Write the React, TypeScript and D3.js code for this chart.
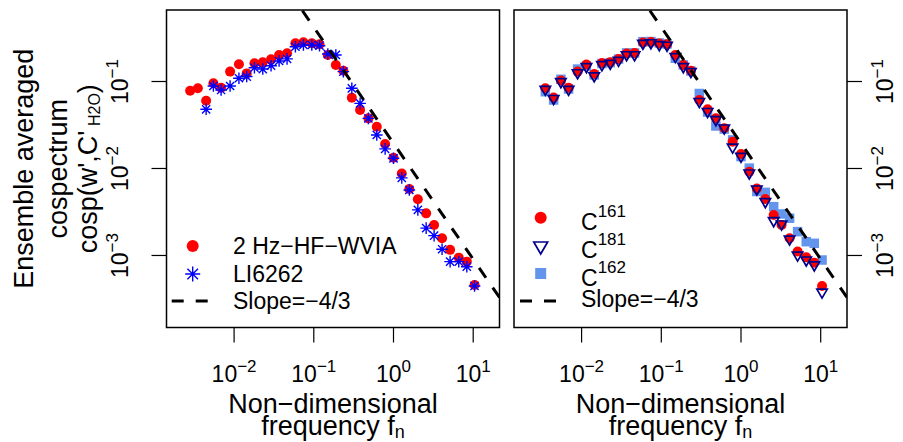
import { useEffect, useRef } from 'react';
import * as d3 from 'd3';

// non-dimensional frequency grid (shared by every series)
const freq = [
  0.00281, 0.00351, 0.00446, 0.0055, 0.00687, 0.00891, 0.0115, 0.0144, 0.018, 0.0229,
  0.0291, 0.0367, 0.0462, 0.0588, 0.0741, 0.0944, 0.118, 0.150, 0.189, 0.235,
  0.300, 0.381, 0.484, 0.617, 0.785, 1.00, 1.27, 1.58, 2.02, 2.57,
  3.23, 4.07, 5.13, 6.59, 8.31, 10.4,
];

// left panel: 2 Hz-HF-WVIA and LI6262
const wvia = [
  0.0784, 0.0835, 0.0602, 0.0953, 0.0849, 0.130, 0.158, 0.124, 0.162, 0.166,
  0.180, 0.202, 0.211, 0.275, 0.282, 0.275, 0.268, 0.202, 0.155, 0.133,
  0.0652, 0.0470, 0.0377, 0.0302, 0.0191, 0.0133, 0.00877, 0.00581, 0.00442, 0.00305,
  0.00224, 0.00158, 0.00116, 0.000944, 0.000849, 0.000458,
];
const li6262 = [
  null, null, 0.0479, 0.0888, 0.0798, 0.0888, 0.109, 0.114, 0.144, 0.139,
  0.152, 0.172, 0.182, 0.251, 0.263, 0.263, 0.258, 0.207, 0.202, 0.130,
  0.0835, 0.0561, 0.0377, 0.0243, 0.0168, 0.0131, 0.00781, 0.00566, 0.00334, 0.00206,
  0.00169, 0.00118, 0.000849, 0.000849, 0.000743, 0.000446,
];

// right panel: C161, C181, C162
const c161 = [
  null, 0.0835, 0.0655, 0.1027, 0.0849, 0.130, 0.157, 0.122, 0.163, 0.167,
  0.181, 0.210, 0.213, 0.281, 0.284, 0.274, 0.268, 0.202, 0.155, 0.133,
  0.0613, 0.0479, 0.0378, 0.0290, 0.0203, 0.0147, 0.00919, 0.00589, 0.00446, 0.00292,
  0.00224, 0.00158, 0.00111, 0.000953, 0.000826, 0.000446,
];
const c181 = [
  null, 0.0813, 0.0638, 0.0995, 0.0813, 0.126, 0.148, 0.116, 0.156, 0.162,
  0.175, 0.203, 0.203, 0.275, 0.279, 0.265, 0.261, 0.193, 0.148, 0.130,
  0.0589, 0.0452, 0.0364, 0.0292, 0.0176, 0.0138, 0.00887, 0.00581, 0.00415, 0.00251,
  0.00230, 0.00154, 0.00101, 0.000887, 0.000778, 0.000379,
];
const c162 = [
  null, 0.0763, 0.0613, 0.106, 0.082, 0.139, 0.151, 0.119, 0.161, 0.165,
  0.181, 0.213, 0.213, 0.287, 0.288, 0.277, 0.270, 0.185, 0.155, 0.132,
  0.0728, 0.0446, 0.0308, 0.0284, 0.0213, 0.0137, 0.0101, 0.00544, 0.00532, 0.00364,
  0.00300, 0.00268, 0.00188, 0.00144, 0.00138, 0.000887,
];

// reference line cosp = a * f^(-4/3)
const slopeCoef = 0.0195;
const slopeExp = -4 / 3;

const xTickExp = ['−2', '−1', '0', '1'];
const xTickVal = [0.01, 0.1, 1, 10];
const yTickExp = ['−3', '−2', '−1'];
const yTickVal = [0.001, 0.01, 0.1];

const FONT = '"Liberation Sans", Arial, Helvetica, sans-serif';

const App = () => {
  const svgRef = useRef<SVGSVGElement>(null);

  useEffect(() => {
    const width = 903;
    const height = 442;
    const top = 10;
    const bottom = 327.5;
    const panels = [
      { left: 166.5, right: 499.5 },
      { left: 514, right: 847 },
    ];

    const svg = d3.select(svgRef.current);
    svg.selectAll('*').remove();
    svg.attr('width', width).attr('height', height).style('font-family', FONT);

    const y = d3.scaleLog().domain([10 ** -3.828, 10 ** -0.178]).range([bottom, top]);

    const circle = (g, cx, cy, r) =>
      g.append('circle').attr('cx', cx).attr('cy', cy).attr('r', r).attr('fill', '#ff0000');
    const triangle = (g, cx, cy, r) => {
      const w = (Math.sqrt(3) / 2) * r;
      g.append('path')
        .attr('d', `M${cx - w},${cy - r / 2}L${cx + w},${cy - r / 2}L${cx},${cy + r}Z`)
        .attr('fill', 'none')
        .attr('stroke', '#00008b')
        .attr('stroke-width', 1.7);
    };
    const square = (g, cx, cy, s) =>
      g.append('rect')
        .attr('x', cx - s / 2).attr('y', cy - s / 2)
        .attr('width', s).attr('height', s)
        .attr('fill', '#6495ed');
    const asterisk = (g, cx, cy, r) => {
      const d = r * 0.7071;
      g.append('path')
        .attr('d', `M${cx - r},${cy}H${cx + r}M${cx},${cy - r}V${cy + r}M${cx - d},${cy - d}L${cx + d},${cy + d}M${cx - d},${cy + d}L${cx + d},${cy - d}`)
        .attr('stroke', '#0000ff')
        .attr('stroke-width', 1.4)
        .attr('fill', 'none');
    };

    // "base^sup" as two tspans
    const power = (g, base, sup, supSize, shift) => {
      g.append('tspan').text(base);
      g.append('tspan').attr('dy', shift).attr('font-size', supSize).text(sup);
    };

    panels.forEach((p, pi) => {
      const x = d3.scaleLog().domain([10 ** -2.848, 10 ** 1.33]).range([p.left, p.right]);
      const g = svg.append('g');

      const clipId = `clip${pi}`;
      svg.append('clipPath').attr('id', clipId)
        .append('rect')
        .attr('x', p.left).attr('y', top)
        .attr('width', p.right - p.left).attr('height', bottom - top);

      const plot = g.append('g');

      if (pi === 0) {
        freq.forEach((f, i) => circle(plot, x(f), y(wvia[i]), 5));
        freq.forEach((f, i) => {
          if (li6262[i] != null) asterisk(plot, x(f), y(li6262[i] as number), 5.8);
        });
      } else {
        freq.forEach((f, i) => {
          if (c162[i] != null) square(plot, x(f), y(c162[i] as number), 9.5);
        });
        freq.forEach((f, i) => {
          if (c161[i] != null) circle(plot, x(f), y(c161[i] as number), 5);
        });
        freq.forEach((f, i) => {
          if (c181[i] != null) triangle(plot, x(f), y(c181[i] as number), 6);
        });
      }

      // slope -4/3 reference line, clipped to the box
      const line = d3.line<number>()
        .x(f => x(f))
        .y(f => y(slopeCoef * Math.pow(f, slopeExp)));
      g.append('path')
        .datum(x.domain())
        .attr('clip-path', `url(#${clipId})`)
        .attr('d', line)
        .attr('fill', 'none')
        .attr('stroke', '#000')
        .attr('stroke-width', 3)
        .attr('stroke-dasharray', '12 12');

      // box
      g.append('rect')
        .attr('x', p.left).attr('y', top)
        .attr('width', p.right - p.left).attr('height', bottom - top)
        .attr('fill', 'none').attr('stroke', '#000').attr('stroke-width', 1.5);

      // x axis ticks + labels
      xTickVal.forEach((v, i) => {
        g.append('line')
          .attr('x1', x(v)).attr('x2', x(v))
          .attr('y1', bottom).attr('y2', bottom + 15)
          .attr('stroke', '#000').attr('stroke-width', 1.2);
        const t = g.append('text')
          .attr('x', x(v)).attr('y', 382)
          .attr('text-anchor', 'middle')
          .attr('font-size', 23);
        power(t, '10', xTickExp[i], 17, -10);
      });

      // x title
      const cx = (p.left + p.right) / 2;
      g.append('text')
        .attr('x', cx).attr('y', 413)
        .attr('text-anchor', 'middle').attr('font-size', 27)
        .text('Non−dimensional');
      const t2 = g.append('text')
        .attr('x', cx).attr('y', 434.5)
        .attr('text-anchor', 'middle').attr('font-size', 27);
      t2.append('tspan').text('frequency f');
      t2.append('tspan').attr('dy', 3).attr('font-size', 18).text('n');

      // y axis (left on panel 1, right on panel 2)
      const ax = pi === 0 ? p.left : p.right;
      const dir = pi === 0 ? -1 : 1;
      const labX = pi === 0 ? 128 : 893;
      yTickVal.forEach((v, i) => {
        g.append('line')
          .attr('x1', ax).attr('x2', ax + dir * 15)
          .attr('y1', y(v)).attr('y2', y(v))
          .attr('stroke', '#000').attr('stroke-width', 1.2);
        const t = g.append('text')
          .attr('transform', `translate(${labX},${y(v)}) rotate(-90)`)
          .attr('text-anchor', 'middle')
          .attr('font-size', 23);
        power(t, '10', yTickExp[i], 17, -10);
      });
    });

    // y title (three lines)
    const yMid = (top + bottom) / 2;
    const yTitle = (bx, build) => {
      const t = svg.append('text')
        .attr('transform', `translate(${bx},${yMid}) rotate(-90)`)
        .attr('text-anchor', 'middle')
        .attr('font-size', 27);
      build(t);
    };
    yTitle(33, t => t.text('Ensemble averaged'));
    yTitle(66.5, t => t.text('cospectrum'));
    yTitle(96.5, t => {
      t.append('tspan').text("cosp(w',C'");
      t.append('tspan').attr('dy', 3).attr('font-size', 16).text(' H2O');
      t.append('tspan').attr('dy', -3).text(')');
    });

    // legends
    const lg = svg.append('g');
    circle(lg, 192.7, 246, 6);
    asterisk(lg, 192.7, 274, 7.5);
    lg.append('line')
      .attr('x1', 171.7).attr('x2', 209).attr('y1', 301).attr('y2', 301)
      .attr('stroke', '#000').attr('stroke-width', 3).attr('stroke-dasharray', '12 12');
    const leftLabels = ['2 Hz−HF−WVIA', 'LI6262', 'Slope=−4/3'];
    const leftBase = [254, 281.5, 308.5];
    leftLabels.forEach((s, i) => {
      lg.append('text').attr('x', 233).attr('y', leftBase[i]).attr('font-size', 23).text(s);
    });

    circle(lg, 540.7, 217.7, 6);
    triangle(lg, 540.7, 246, 8);
    square(lg, 540.7, 273.5, 11);
    lg.append('line')
      .attr('x1', 520).attr('x2', 557).attr('y1', 301).attr('y2', 301)
      .attr('stroke', '#000').attr('stroke-width', 3).attr('stroke-dasharray', '12 12');
    const rightSup = ['161', '181', '162'];
    const rightBase = [229.5, 258, 285.5];
    rightSup.forEach((s, i) => {
      const t = lg.append('text').attr('x', 581).attr('y', rightBase[i]).attr('font-size', 23);
      power(t, 'C', s, 17, -13);
    });
    lg.append('text').attr('x', 581).attr('y', 306.5).attr('font-size', 23).text('Slope=−4/3');
  }, []);

  return <svg ref={svgRef} style={{ position: 'absolute', left: 0, top: 0 }}></svg>;
};

export default App;
